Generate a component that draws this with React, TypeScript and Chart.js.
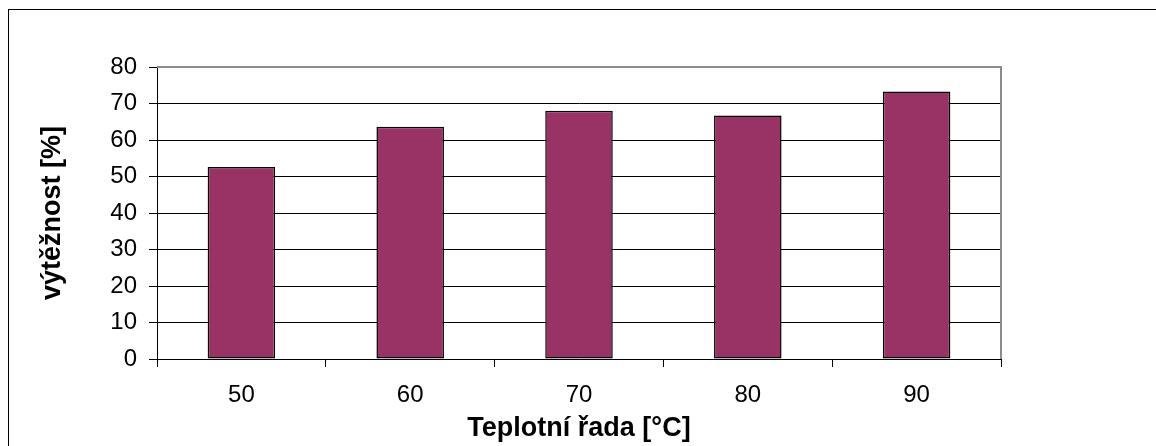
import React, { useEffect, useRef } from "react";
import { Chart, registerables } from "chart.js";

Chart.register(...registerables);

// Temperature series (°C) and yield per series (%)
const categories: string[] = ["50", "60", "70", "80", "90"];
const yieldValues: number[] = [52.6, 63.6, 68.0, 66.7, 73.3];
const yTicks: number[] = [0, 10, 20, 30, 40, 50, 60, 70, 80];

const xTitle = "Teplotní řada [°C]";
const yTitle = "výtěžnost [%]";

const FONT = "'Liberation Sans', Arial, sans-serif";
const W = 1156;
const H = 446;

// Outer chart frame plus the grey plot-area border (top and right edges)
const framePlugin = {
  id: "frame",
  beforeDraw(chart: any) {
    const { ctx } = chart;
    ctx.save();
    ctx.fillStyle = "#ffffff";
    ctx.fillRect(0, 0, W, H);
    ctx.strokeStyle = "#000000";
    ctx.lineWidth = 1;
    ctx.strokeRect(8.5, 9.5, W + 20, H + 20);
    ctx.restore();
  },
  beforeDatasetsDraw(chart: any) {
    const { ctx, chartArea } = chart;
    ctx.save();
    ctx.strokeStyle = "#8c8c8c";
    ctx.lineWidth = 2;
    ctx.beginPath();
    ctx.moveTo(chartArea.left, chartArea.top);
    ctx.lineTo(chartArea.right, chartArea.top);
    ctx.lineTo(chartArea.right, chartArea.bottom);
    ctx.stroke();
    ctx.restore();
  },
};

export default function App() {
  const canvasRef = useRef<HTMLCanvasElement | null>(null);

  useEffect(() => {
    const canvas = canvasRef.current;
    if (!canvas) return;
    const chart = new Chart(canvas, {
      type: "bar",
      data: {
        labels: categories,
        datasets: [
          {
            data: yieldValues,
            backgroundColor: "#993366",
            borderColor: "#000000",
            borderWidth: 1.5,
            borderSkipped: false,
            categoryPercentage: 1,
            barPercentage: 0.4,
          },
        ],
      },
      options: {
        animation: false,
        responsive: false,
        devicePixelRatio: 1,
        layout: { padding: { left: 0, top: 67, right: W - 1001, bottom: 0 } },
        plugins: {
          legend: { display: false },
          tooltip: { enabled: false },
        },
        scales: {
          x: {
            offset: true,
            grid: {
              display: true,
              drawOnChartArea: false,
              drawTicks: true,
              tickLength: 8,
              tickColor: "#000000",
              offset: true,
            },
            border: { display: true, color: "#000000", width: 1 },
            ticks: {
              color: "#000000",
              padding: 14,
              font: { family: FONT, size: 24 },
            },
            title: {
              display: true,
              text: xTitle,
              color: "#000000",
              font: { family: FONT, size: 27, weight: "bold" },
              padding: { top: 0, bottom: 1 },
            },
            afterFit(scale: any) {
              scale.height = H - 359;
            },
          },
          y: {
            min: 0,
            max: 80,
            afterBuildTicks(scale: any) {
              scale.ticks = yTicks.map((v) => ({ value: v }));
            },
            grid: {
              color: (c: any) => (c.tick && c.tick.value === 80 ? "#8c8c8c" : "#000000"),
              lineWidth: 1,
              tickLength: 8,
              tickColor: "#000000",
            },
            border: { display: true, color: "#000000", width: 1 },
            ticks: {
              color: "#000000",
              padding: 12,
              font: { family: FONT, size: 24 },
            },
            title: {
              display: true,
              text: yTitle,
              color: "#000000",
              font: { family: FONT, size: 27, weight: "bold" },
              padding: { top: 36, bottom: 0 },
            },
            afterFit(scale: any) {
              scale.width = 157;
            },
          },
        },
      },
      plugins: [framePlugin],
    });
    return () => chart.destroy();
  }, []);

  return (
    <div style={{ position: "fixed", left: 0, top: 0, width: W, height: H, background: "#fff" }}>
      <canvas ref={canvasRef} width={W} height={H} style={{ width: W, height: H, display: "block" }} />
    </div>
  );
}
